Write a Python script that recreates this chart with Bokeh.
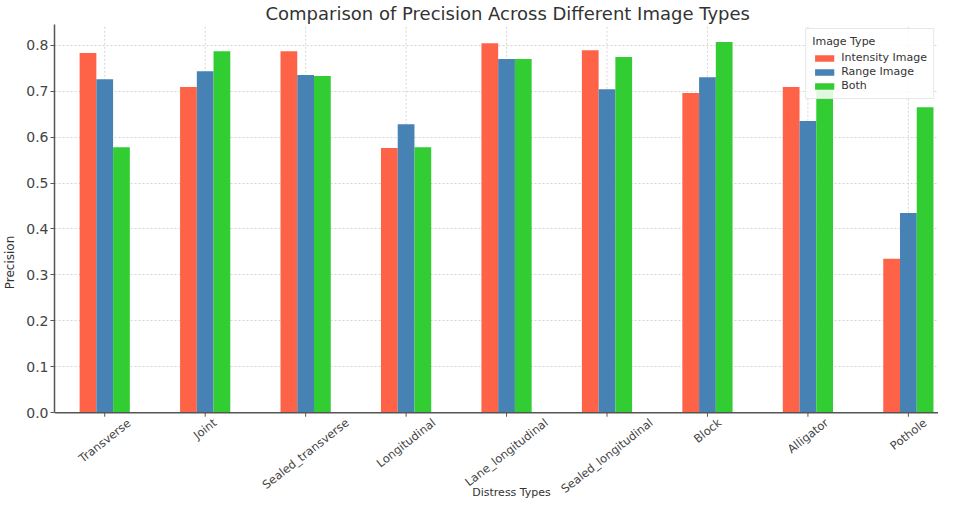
import numpy as np
from bokeh.plotting import figure
from bokeh.core.properties import value
from bokeh.models import (ColumnDataSource, Range1d, FixedTicker, Legend, LegendItem,
                          NumeralTickFormatter, LabelSet, Label, Span)
from bokeh.transform import dodge
from bokeh.embed import file_html
from bokeh.resources import INLINE

categories = ["Transverse", "Joint", "Sealed_transverse", "Longitudinal", "Lane_longitudinal",
              "Sealed_longitudinal", "Block", "Alligator", "Pothole"]
intensity = [0.783, 0.709, 0.787, 0.576, 0.804, 0.789, 0.696, 0.709, 0.335]
range_img = [0.726, 0.743, 0.735, 0.628, 0.770, 0.704, 0.730, 0.635, 0.435]
both = [0.578, 0.787, 0.733, 0.578, 0.770, 0.774, 0.807, 0.702, 0.665]
series_names = ["Intensity Image", "Range Image", "Both"]
colors = ["#FF6347", "#4682B4", "#32CD32"]
y_ticks = [0.0, 0.1, 0.2, 0.3, 0.4, 0.5, 0.6, 0.7, 0.8]

FONT = "DejaVu Sans"
LABEL_PX = 11.5
ANGLE = np.deg2rad(38)
Y_TOP = 0.845
Y_BOTTOM = -0.191   # room below zero for the rotated category labels

# approximate DejaVu Sans advance widths (units of 1/2048 em) for label layout
_W = {'a': 1255, 'b': 1300, 'c': 1126, 'd': 1300, 'e': 1260, 'f': 721, 'g': 1300, 'h': 1298,
      'i': 569, 'j': 569, 'k': 1186, 'l': 569, 'm': 1995, 'n': 1298, 'o': 1253, 'p': 1300,
      'q': 1300, 'r': 842, 's': 1067, 't': 803, 'u': 1298, 'v': 1212, 'w': 1675, 'x': 1212,
      'y': 1212, 'z': 1075, '_': 1024, 'A': 1401, 'B': 1405, 'J': 604, 'L': 1141, 'P': 1235,
      'S': 1300, 'T': 1251}


def text_width(s, px):
    return sum(_W.get(ch, 1250) for ch in s) / 2048.0 * px


idx = list(range(len(categories)))
src = ColumnDataSource(dict(x=idx, intensity=intensity, range_img=range_img, both=both))

p = figure(width=938, height=500, output_backend="svg", toolbar_location=None,
           x_range=Range1d(-0.5, 8.3), y_range=Range1d(Y_BOTTOM, Y_TOP),
           x_axis_location=None,
           title="Comparison of Precision Across Different Image Types",
           min_border_left=46, min_border_bottom=0, min_border_top=3, min_border_right=0)
p.title.text_font = FONT
p.title.text_font_size = "18px"
p.title.text_font_style = "normal"
p.title.text_color = "#333333"
p.title.align = "left"
p.title.offset = 211
p.title.standoff = 1

# vertical dotted grid lines at each category (above zero only)
p.segment(x0=idx, y0=[0] * len(idx), x1=idx, y1=[Y_TOP] * len(idx),
          line_color="#cccccc", line_dash="2 2", line_alpha=0.8, line_width=1)
p.xgrid.visible = False

w = 1.0 / 6
renderers = []
for field, off, c in zip(["intensity", "range_img", "both"], [-w, 0, w], colors):
    r = p.vbar(x=dodge("x", off), top=field, width=w, source=src, fill_color=c, line_color=None)
    renderers.append(r)

# x axis line and ticks at zero
p.add_layout(Span(location=0, dimension="width", line_color="#555555", line_width=1.5))
p.ray(x=idx, y=[0] * len(idx), length=4, length_units="screen", angle=-np.pi / 2,
      line_color="#555555", line_width=1)

legend = Legend(items=[LegendItem(label=n, renderers=[r]) for n, r in zip(series_names, renderers)],
                location="top_right", title="Image Type")
legend.title_text_font = FONT
legend.title_text_font_size = "11px"
legend.title_text_font_style = "normal"
legend.title_text_color = "#333333"
legend.title_standoff = 3
legend.label_text_font = FONT
legend.label_text_font_size = "11px"
legend.label_text_color = "#333333"
legend.glyph_width = 24
legend.glyph_height = 8
legend.label_height = 11
legend.spacing = 1
legend.padding = 6
legend.margin = 4
legend.border_line_color = "#d0d0d0"
legend.background_fill_alpha = 0.85
p.add_layout(legend)

# category labels, rotated and centred below each tick
lab_y_off = [-(4 + (text_width(c, LABEL_PX) * np.sin(ANGLE) + 11 * np.cos(ANGLE)) / 2)
             for c in categories]
lab_src = ColumnDataSource(dict(x=idx, y=[0] * len(idx), text=categories, yo=lab_y_off))
labels = LabelSet(x="x", y="y", text="text", y_offset="yo", source=lab_src,
                  angle=ANGLE, text_align="center", text_baseline="middle",
                  text_font=value(FONT), text_font_size=value(f"{LABEL_PX}px"),
                  text_color="#444444")
p.add_layout(labels)

p.add_layout(Label(x=(len(categories) - 1) / 2, y=0, x_offset=5, y_offset=-80,
                   text="Distress Types", text_align="center", text_baseline="middle",
                   text_font=FONT, text_font_size="11px", text_color="#333333"))

p.yaxis.ticker = FixedTicker(ticks=y_ticks)
p.yaxis.formatter = NumeralTickFormatter(format="0.0")
p.yaxis.bounds = (0, Y_TOP)
p.yaxis.axis_line_color = "#555555"
p.yaxis.axis_line_width = 1.5
p.yaxis.major_tick_line_color = "#555555"
p.yaxis.major_tick_in = 0
p.yaxis.major_tick_out = 4
p.yaxis.minor_tick_line_color = None
p.yaxis.major_label_text_font = FONT
p.yaxis.major_label_text_font_size = "14px"
p.yaxis.major_label_text_color = "#444444"
p.yaxis.major_label_standoff = 2
p.yaxis.axis_label = "Precision"
p.yaxis.axis_label_text_font = FONT
p.yaxis.axis_label_text_font_style = "normal"
p.yaxis.axis_label_text_color = "#333333"
p.yaxis.axis_label_text_font_size = "12px"
p.yaxis.axis_label_standoff = 6

p.ygrid.grid_line_color = "#cccccc"
p.ygrid.grid_line_dash = "2 2"
p.ygrid.grid_line_alpha = 0.8
p.outline_line_color = None

open("out.html", "w").write(file_html(p, INLINE))
